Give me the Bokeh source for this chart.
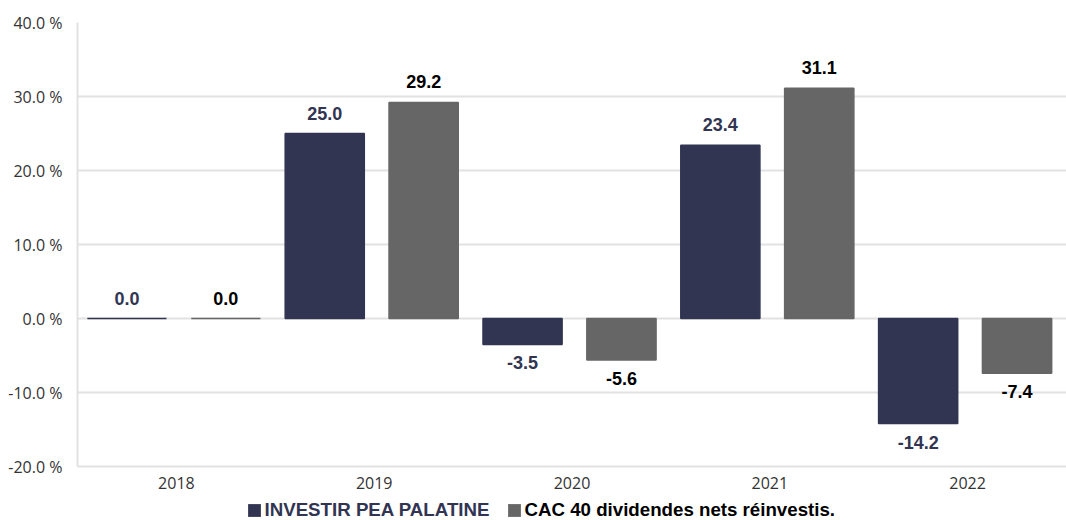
from bokeh.plotting import figure
from bokeh.layouts import column
from bokeh.models import (ColumnDataSource, FactorRange, FixedTicker, PrintfTickFormatter,
                          Legend, LegendItem, Range1d)
from bokeh.transform import dodge
from bokeh.core.properties import value
from bokeh.embed import file_html
from bokeh.resources import INLINE

years = ["2018", "2019", "2020", "2021", "2022"]
investir = [0.0, 25.0, -3.5, 23.4, -14.2]
cac40 = [0.0, 29.2, -5.6, 31.1, -7.4]
y_ticks = [-20, -10, 0, 10, 20, 30, 40]
series_names = ["INVESTIR PEA PALATINE", "CAC 40 dividendes nets réinvestis."]

NAVY = "#313552"
GREY = "#666666"
GRID = "#e2e2e2"

p = figure(width=1066, height=496, x_range=FactorRange(factors=years, range_padding=0),
           y_range=(-20, 40), output_backend="svg", toolbar_location=None,
           min_border_left=77, min_border_right=0, min_border_top=22, min_border_bottom=30)
p.outline_line_color = None

src = ColumnDataSource(dict(
    year=years, inv=investir, cac=cac40,
    inv_lbl=[f"{v:.1f}" for v in investir], cac_lbl=[f"{v:.1f}" for v in cac40],
))

r1 = p.vbar(x=dodge("year", -0.25, range=p.x_range), top="inv", bottom=0, width=0.40,
            source=src, fill_color=NAVY, line_color=NAVY, line_width=1.5)
r2 = p.vbar(x=dodge("year", 0.25, range=p.x_range), top="cac", bottom=0, width=0.35,
            source=src, fill_color=GREY, line_color=GREY, line_width=1.5)

# value labels
def add_labels(col, lbl, off, color):
    pos = [i for i, v in enumerate(src.data[col]) if v >= 0]
    neg = [i for i, v in enumerate(src.data[col]) if v < 0]
    for idx, base, yo in ((pos, "bottom", -14), (neg, "top", 12)):
        s = ColumnDataSource(dict(year=[years[i] for i in idx],
                                  v=[src.data[col][i] for i in idx],
                                  t=[src.data[lbl][i] for i in idx]))
        p.text(x=dodge("year", off, range=p.x_range), y="v", text="t", source=s,
               text_align="center", text_baseline=base, y_offset=yo,
               text_font=value("Liberation Sans"), text_font_style="bold",
               text_font_size="18px", text_color=color)

add_labels("inv", "inv_lbl", -0.25, NAVY)
add_labels("cac", "cac_lbl", 0.25, "#000000")

# axes
p.yaxis.ticker = FixedTicker(ticks=y_ticks)
p.yaxis.formatter = PrintfTickFormatter(format="%.1f %%")
for ax in (p.xaxis, p.yaxis):
    ax.axis_line_color = GRID
    ax.axis_line_width = 2
    ax.major_tick_line_color = None
    ax.minor_tick_line_color = None
    ax.major_label_text_font = "Open Sans"
    ax.major_label_text_font_size = "16px"
    ax.major_label_text_color = "#333333"
p.yaxis.major_label_standoff = 9
p.xaxis.major_label_standoff = 4

p.xgrid.grid_line_color = None
p.ygrid.ticker = FixedTicker(ticks=y_ticks)
p.ygrid.grid_line_color = GRID
p.ygrid.grid_line_width = 2

# legend strip below the chart (two legends, for per-item text colour)
lg = figure(width=1066, height=24, x_range=Range1d(0, 1), y_range=Range1d(0, 1),
            output_backend="svg", toolbar_location=None,
            min_border_left=0, min_border_right=0, min_border_top=0, min_border_bottom=0)
lg.axis.visible = False
lg.grid.visible = False
lg.outline_line_color = None
# swatch renderers (placed outside the visible range; only their legend glyph is shown)
d1 = lg.vbar(x=[5], top=[5], width=0.1, fill_color=NAVY, line_color=None)
d2 = lg.vbar(x=[5], top=[5], width=0.1, fill_color=GREY, line_color=None)

for r, name, color, xloc in ((d1, series_names[0], NAVY, 168.5), (d2, series_names[1], "#000000", 428.5)):
    leg = Legend(items=[LegendItem(label=name, renderers=[r])], location=(xloc, -1),
                 orientation="horizontal", glyph_width=16, glyph_height=16,
                 label_standoff=3, padding=0, margin=0, spacing=0,
                 border_line_color=None, background_fill_alpha=0,
                 label_text_font="Liberation Sans", label_text_font_style="bold",
                 label_text_font_size="18.7px", label_text_color=color)
    lg.add_layout(leg)

layout = column(p, lg, spacing=0)
open("out.html", "w").write(file_html(layout, INLINE))
